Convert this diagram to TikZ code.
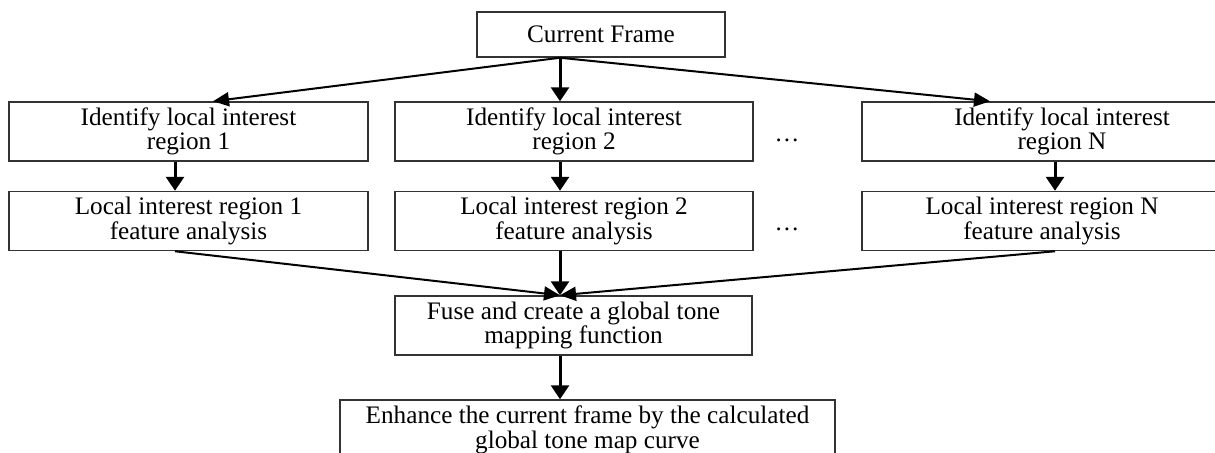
\documentclass[tikz,border=0pt]{standalone}
\usepackage{fontspec}
\setmainfont{Liberation Serif}
\usetikzlibrary{arrows.meta, calc}

\begin{document}
\begin{tikzpicture}[
        x=0.5pt, y=-0.5pt,
        box/.style={rectangle, draw=black!80, line width=0.75pt, minimum height=29.5pt, inner sep=0pt, align=center, font=\fontsize{12.6}{12.2}\selectfont},
        dotlabel/.style={font=\fontsize{12.4}{12}\selectfont},
        arrow/.style={line width=1.5pt, -{Triangle[length=7pt, width=9pt]}},
        slant/.style={line width=1pt, -{Triangle[length=8pt, width=7pt]}}
    ]
        \useasboundingbox (0,0) rectangle (1215,452);

        % Nodes
        \node[box, minimum width=124pt, minimum height=22.5pt] (cur) at (601,34.5) {Current Frame};
        \node[box, minimum width=179.5pt] (idA) at (188.5,131.5) {Identify local interest\\region 1};
        \node[box, minimum width=179pt] (idB) at (574,131.5) {Identify local interest\\region 2};
        \node[box, minimum width=200pt] (idN) at (1062,131.5) {Identify local interest\\region N};
        \node[box, minimum width=179.5pt] (featA) at (188.5,221) {Local interest region 1\\feature analysis};
        \node[box, minimum width=179pt] (featB) at (574,221) {Local interest region 2\\feature analysis};
        \node[box, minimum width=180pt] (featN) at (1042,221) {Local interest region N\\feature analysis};
        \node[box, minimum width=178.5pt] (fuse) at (573.5,325.5) {Fuse and create a global tone\\mapping function};
        \node[box, minimum width=247.5pt, minimum height=30pt] (enh) at (587.5,430) {Enhance the current frame by the calculated\\global tone map curve};
        \node[dotlabel] (dotsA) at (787,140) {\dots};
        \node[dotlabel] (dotsB) at (787,229) {\dots};

        % Columns
        \coordinate (spine) at (560,0);
        \coordinate (colA) at (175,0);
        \coordinate (colN) at (1055,0);
        \coordinate (tipA) at (213,0);
        \coordinate (tipN) at (990,0);

        % Arrows
        \draw[slant] (cur.south -| spine) -- (idA.north -| tipA);
        \draw[arrow] (cur.south -| spine) -- (idB.north -| spine);
        \draw[slant] (cur.south -| spine) -- (idN.north -| tipN);
        \draw[arrow] (idA.south -| colA) -- (featA.north -| colA);
        \draw[arrow] (idB.south -| spine) -- (featB.north -| spine);
        \draw[arrow] (idN.south -| colN) -- (featN.north -| colN);
        \draw[slant] (featA.south -| colA) -- (fuse.north -| spine);
        \draw[arrow] (featB.south -| spine) -- (fuse.north -| spine);
        \draw[slant] (featN.south -| colN) -- (fuse.north -| spine);
        \draw[arrow] (fuse.south -| spine) -- (enh.north -| spine);
    \end{tikzpicture}
\end{document}
